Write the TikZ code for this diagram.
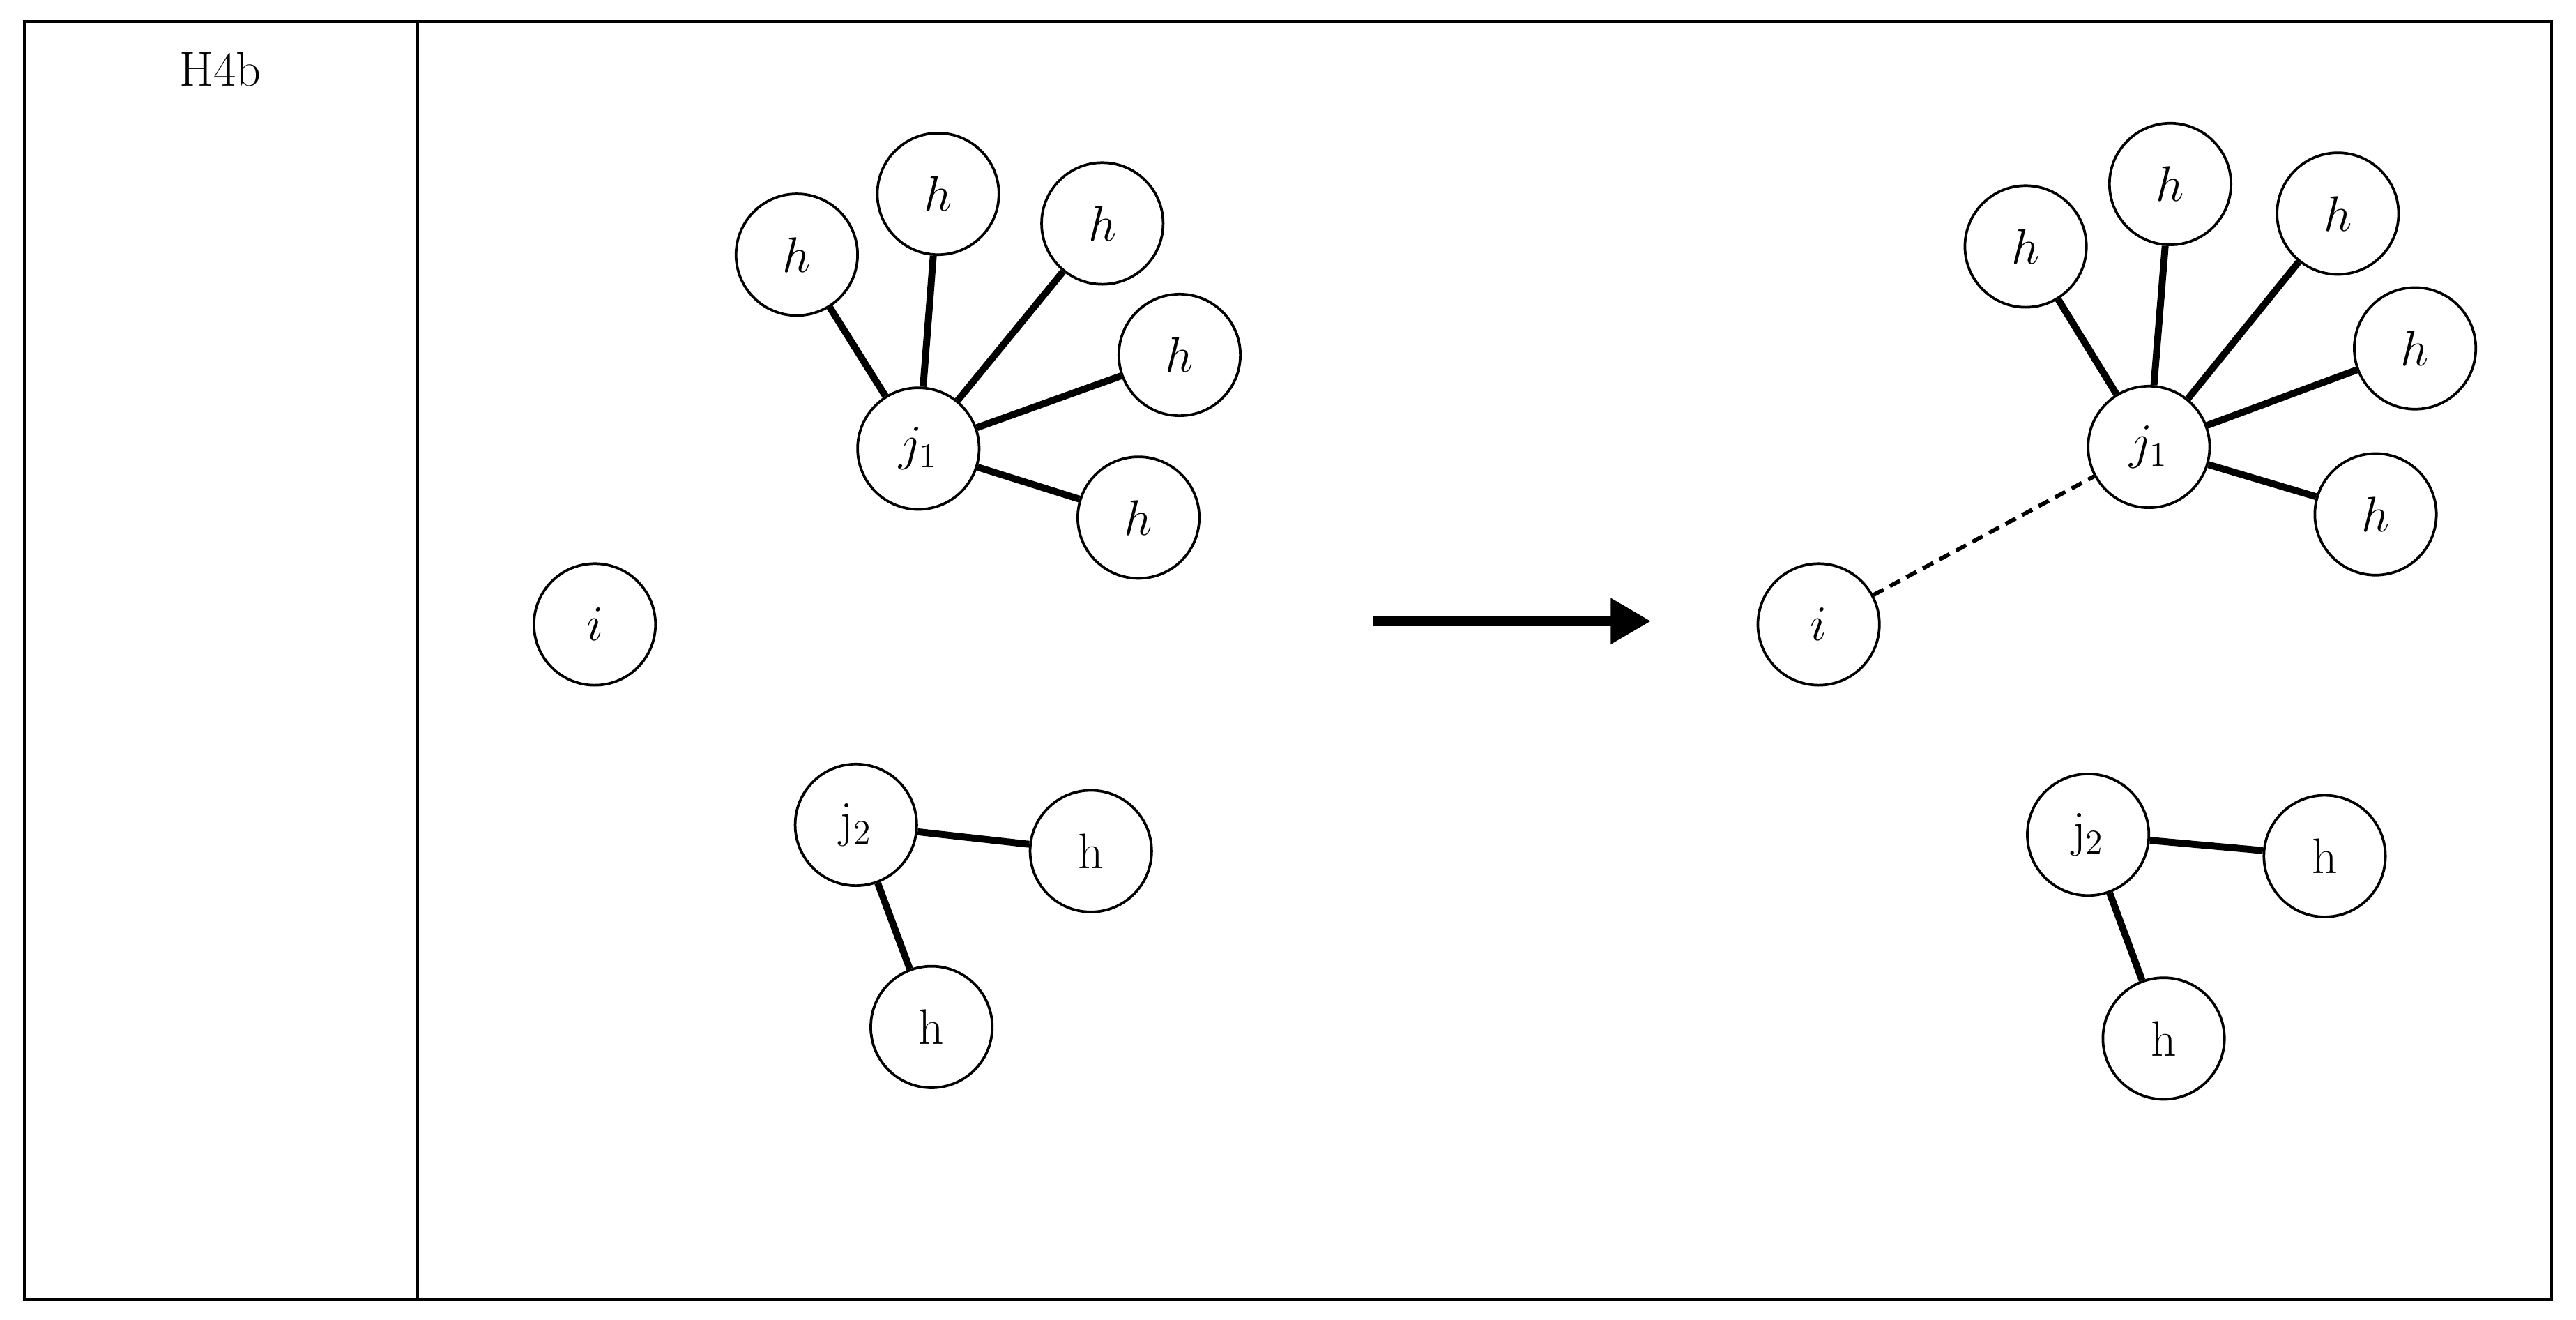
\documentclass[tikz,border=0pt]{standalone}
\usepackage{tikz}
\usetikzlibrary{arrows.meta}

\begin{document}
\begin{tikzpicture}[x=0.02cm, y=-0.02cm,
    vertex/.style={draw=black, circle, line width=0.9pt, minimum size=1.48cm, inner sep=0pt, font=\LARGE, fill=white},
    bond/.style={line width=2.4pt},
    link/.style={line width=1.4pt, dash pattern=on 4pt off 2.5pt}]
    \useasboundingbox (0,0) rectangle (1568,803);
    % table frame
    \draw[line width=1pt] (15,13) rectangle (1553,791);
    \draw[line width=1pt] (254,13) -- (254,791);
    \node[font=\fontsize{17}{20}\selectfont] (title) at (134,42) {H4b};

    % before
    \node[vertex] (iA) at (362,380) {$i$};
    \node[vertex] (jA) at (559,273) {$j_1$};
    \node[vertex] (hA1) at (485,155) {$h$};
    \node[vertex] (hA2) at (571,118) {$h$};
    \node[vertex] (hA3) at (671,136) {$h$};
    \node[vertex] (hA4) at (718,216) {$h$};
    \node[vertex] (hA5) at (693,315) {$h$};
    \node[vertex] (kA) at (521,502) {$\mathrm{j}_2$};
    \node[vertex] (gA1) at (664,518) {$\mathrm{h}$};
    \node[vertex] (gA2) at (567,625) {$\mathrm{h}$};
    \foreach \n in {hA1,hA2,hA3,hA4,hA5}
      \draw[bond] (jA) -- (\n);
    \draw[bond] (kA) -- (gA1);
    \draw[bond] (kA) -- (gA2);

    % transition
    \coordinate (a1) at (836,378);
    \coordinate (a2) at (1005,378);
    \draw[line width=3.5pt, -{Triangle[length=14pt, width=15pt]}] (a1) -- (a2);

    % after
    \node[vertex] (iB) at (1107,380) {$i$};
    \node[vertex] (jB) at (1308,272) {$j_1$};
    \node[vertex] (hB1) at (1233,150) {$h$};
    \node[vertex] (hB2) at (1321,112) {$h$};
    \node[vertex] (hB3) at (1423,130) {$h$};
    \node[vertex] (hB4) at (1470,212) {$h$};
    \node[vertex] (hB5) at (1446,313) {$h$};
    \node[vertex] (kB) at (1271,508) {$\mathrm{j}_2$};
    \node[vertex] (gB1) at (1415,521) {$\mathrm{h}$};
    \node[vertex] (gB2) at (1317,632) {$\mathrm{h}$};
    \foreach \n in {hB1,hB2,hB3,hB4,hB5}
      \draw[bond] (jB) -- (\n);
    \draw[bond] (kB) -- (gB1);
    \draw[bond] (kB) -- (gB2);
    \draw[link] (iB) -- (jB);
\end{tikzpicture}
\end{document}
